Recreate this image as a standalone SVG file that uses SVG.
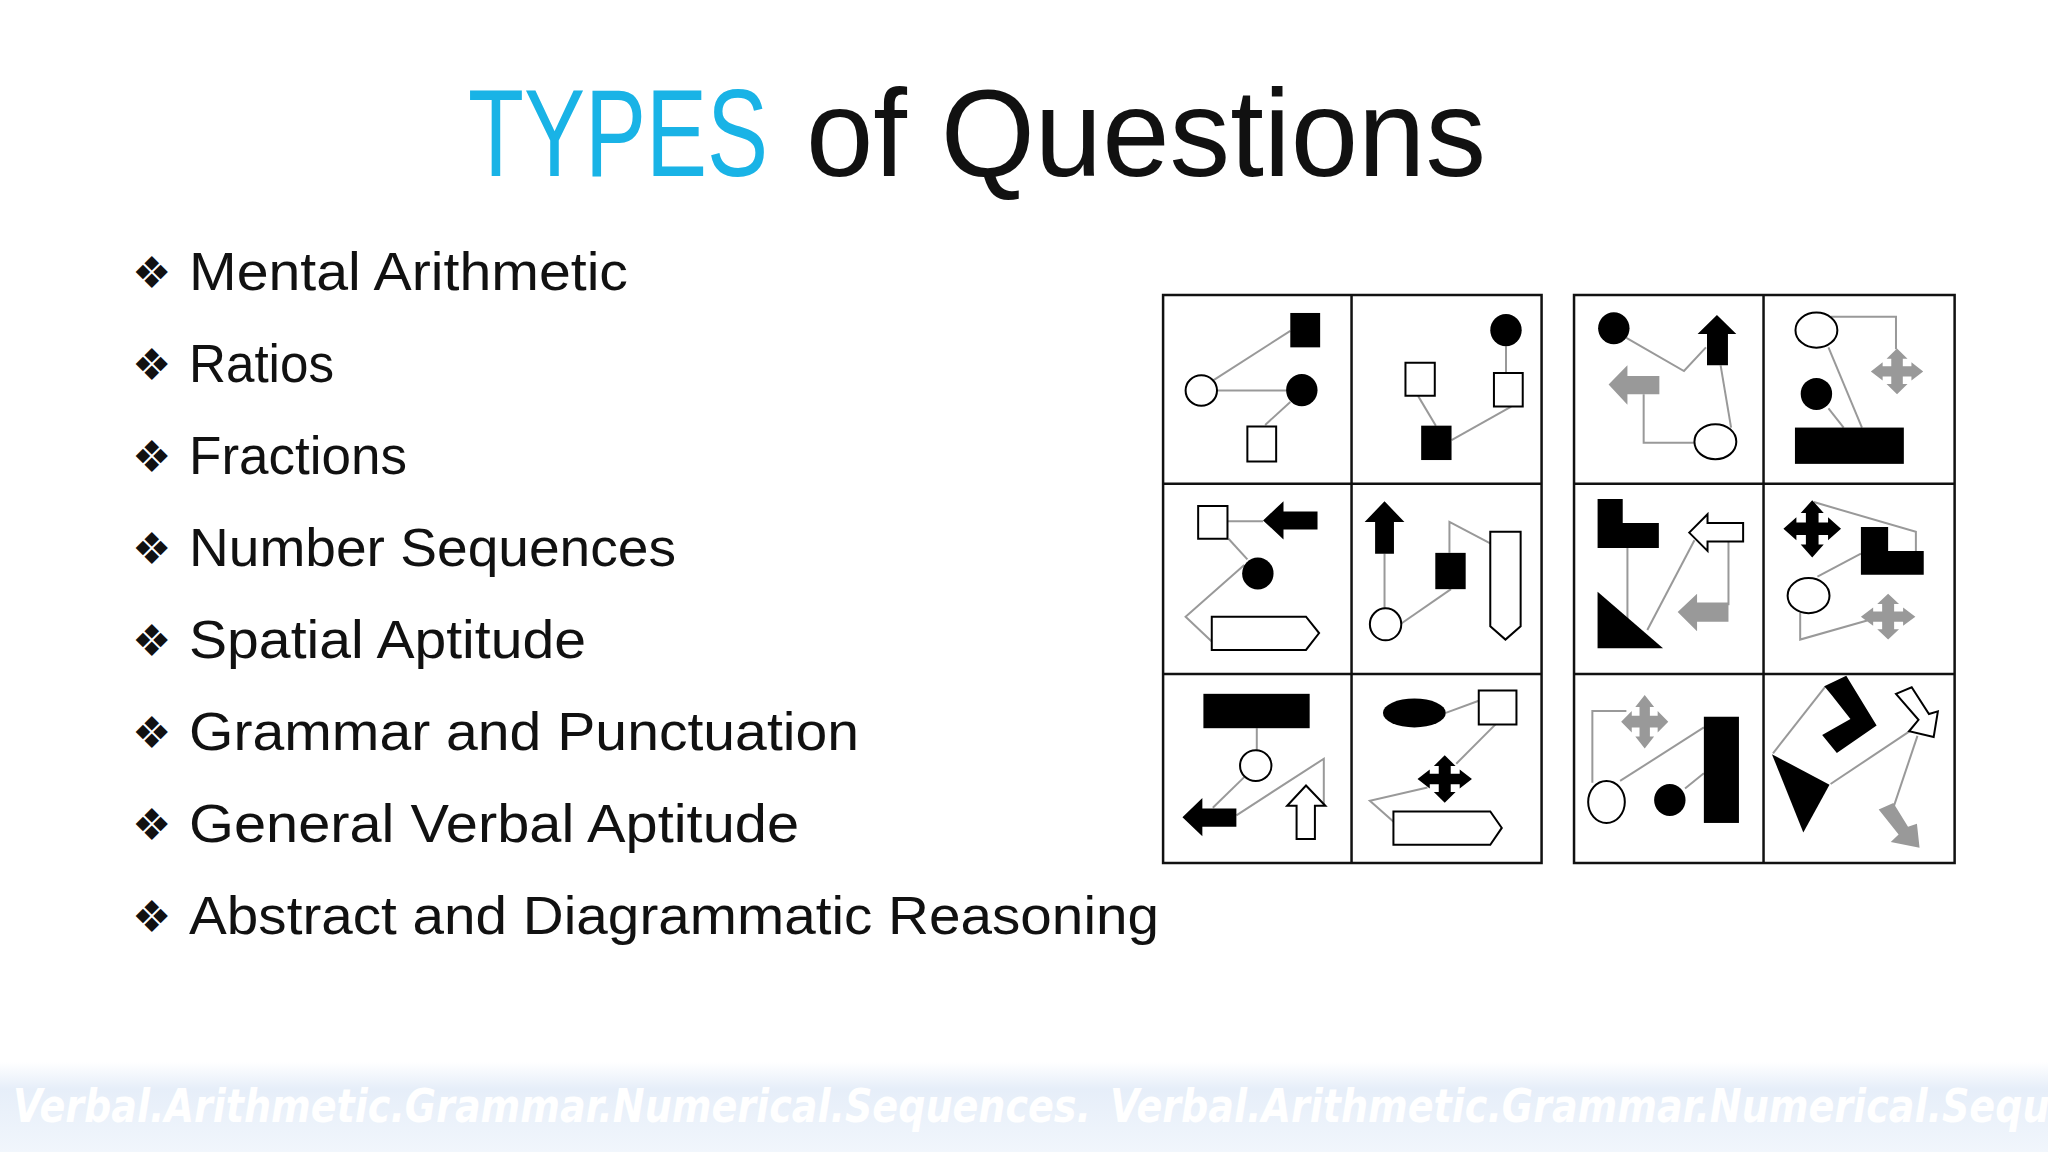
<svg xmlns="http://www.w3.org/2000/svg" width="2048" height="1152" viewBox="0 0 2048 1152">
<style>
.t{font-family:"Liberation Sans",Arial,sans-serif;fill:#111}
.b{font-family:"DejaVu Sans",sans-serif;font-size:44px;fill:#111}
.g *{vector-effect:non-scaling-stroke}
.k{fill:#000}
.w{fill:#fff;stroke:#000;stroke-width:2}
.gr{fill:#999}
.ln{fill:none;stroke:#999;stroke-width:2}
.grid{fill:none;stroke:#111;stroke-width:2.5}
.ft{font-family:"DejaVu Sans Condensed","DejaVu Sans",sans-serif;font-weight:bold;font-style:italic;font-size:46px;fill:#fff}
</style>
<defs>
<linearGradient id="band" x1="0" y1="0" x2="0" y2="1">
<stop offset="0" stop-color="#ffffff"/><stop offset="0.3" stop-color="#e6eef9"/><stop offset="1" stop-color="#f1f6fc"/>
</linearGradient>
<polygon id="star" points="0,-1 0.4,-0.55 0.22,-0.55 0.22,-0.22 0.55,-0.22 0.55,-0.4 1,0 0.55,0.4 0.55,0.22 0.22,0.22 0.22,0.55 0.4,0.55 0,1 -0.4,0.55 -0.22,0.55 -0.22,0.22 -0.55,0.22 -0.55,0.4 -1,0 -0.55,-0.4 -0.55,-0.22 -0.22,-0.22 -0.22,-0.55 -0.4,-0.55"/>
</defs>
<rect width="2048" height="1152" fill="#fff"/>
<g id="title">
<text class="t" x="468" y="176" font-size="124" fill="#19b3e6" style="fill:#19b3e6" textLength="300" lengthAdjust="spacingAndGlyphs">TYPES</text>
<text class="t" x="806" y="176" font-size="124" textLength="680" lengthAdjust="spacingAndGlyphs">of Questions</text>
</g>
<g id="list">
<text class="b" x="132" y="288">❖</text><text class="t" x="189" y="290" font-size="54" textLength="439" lengthAdjust="spacingAndGlyphs">Mental Arithmetic</text>
<text class="b" x="132" y="380">❖</text><text class="t" x="189" y="382" font-size="54" textLength="145" lengthAdjust="spacingAndGlyphs">Ratios</text>
<text class="b" x="132" y="472">❖</text><text class="t" x="189" y="474" font-size="54" textLength="218" lengthAdjust="spacingAndGlyphs">Fractions</text>
<text class="b" x="132" y="564">❖</text><text class="t" x="189" y="566" font-size="54" textLength="487" lengthAdjust="spacingAndGlyphs">Number Sequences</text>
<text class="b" x="132" y="656">❖</text><text class="t" x="189" y="658" font-size="54" textLength="397" lengthAdjust="spacingAndGlyphs">Spatial Aptitude</text>
<text class="b" x="132" y="748">❖</text><text class="t" x="189" y="750" font-size="54" textLength="670" lengthAdjust="spacingAndGlyphs">Grammar and Punctuation</text>
<text class="b" x="132" y="840">❖</text><text class="t" x="189" y="842" font-size="54" textLength="610" lengthAdjust="spacingAndGlyphs">General Verbal Aptitude</text>
<text class="b" x="132" y="932">❖</text><text class="t" x="189" y="934" font-size="54" textLength="970" lengthAdjust="spacingAndGlyphs">Abstract and Diagrammatic Reasoning</text>
</g>
<g id="grids" class="g" transform="translate(1150,280.5) scale(0.5235,0.382)">
<g id="connectors">
<polyline class="ln" points="120,262 268,132"/><polyline class="ln" points="128,288 260,288"/><polyline class="ln" points="220,378 268,318"/>
<polyline class="ln" points="680,172 680,242"/><polyline class="ln" points="512,302 546,380"/><polyline class="ln" points="576,418 690,330"/>
<polyline class="ln" points="910,150 1020,237 1062,175"/><polyline class="ln" points="1090,222 1110,385"/><polyline class="ln" points="943,298 943,425 1042,425"/>
<polyline class="ln" points="1300,95 1425,95 1425,180"/><polyline class="ln" points="1296,175 1360,385"/><polyline class="ln" points="1296,335 1325,385"/>
<polyline class="ln" points="148,630 216,630"/><polyline class="ln" points="150,676 186,730"/><polyline class="ln" points="180,745 68,880 118,945"/>
<polyline class="ln" points="448,715 448,858"/><polyline class="ln" points="478,900 575,808"/><polyline class="ln" points="572,713 572,632 650,688"/>
<polyline class="ln" points="912,700 912,930"/><polyline class="ln" points="950,915 1040,680"/><polyline class="ln" points="1105,683 1105,850"/>
<polyline class="ln" points="1268,580 1463,658 1463,708"/><polyline class="ln" points="1275,775 1358,715"/><polyline class="ln" points="1242,870 1242,940 1370,890"/>
<polyline class="ln" points="204,1172 204,1230"/><polyline class="ln" points="180,1300 120,1380"/><polyline class="ln" points="165,1400 332,1252 332,1372"/>
<polyline class="ln" points="565,1132 628,1100"/><polyline class="ln" points="660,1162 585,1265"/><polyline class="ln" points="530,1327 420,1362 468,1420"/>
<polyline class="ln" points="845,1315 845,1127 910,1127"/><polyline class="ln" points="898,1310 1058,1170"/><polyline class="ln" points="1022,1330 1058,1290"/>
<polyline class="ln" points="1190,1238 1290,1063"/><polyline class="ln" points="1300,1318 1460,1172"/><polyline class="ln" points="1466,1192 1420,1380"/>
</g>
<g id="cell1"><rect class="k" x="268" y="85" width="57" height="90"/><ellipse class="w" cx="98" cy="288" rx="30" ry="40"/><ellipse class="k" cx="290" cy="287" rx="30" ry="42"/><rect class="w" x="186" y="382" width="55" height="92"/></g>
<g id="cell2"><ellipse class="k" cx="680" cy="130" rx="30" ry="42"/><rect class="w" x="488" y="215" width="56" height="87"/><rect class="w" x="657" y="242" width="55" height="88"/><rect class="k" x="518" y="380" width="58" height="90"/></g>
<g id="cell3"><ellipse class="k" cx="886" cy="125" rx="30" ry="42"/><polygon class="k" points="1083,90 1120,140 1104,140 1104,222 1064,222 1064,140 1046,140"/><polygon class="gr" points="876,272 912,222 912,250 973,250 973,298 912,298 912,325"/><ellipse class="w" cx="1080" cy="422" rx="40" ry="46"/></g>
<g id="cell4"><ellipse class="w" cx="1273" cy="130" rx="40" ry="46"/><use href="#star" class="gr" transform="translate(1427,238) scale(50,60)"/><ellipse class="k" cx="1273" cy="297" rx="30" ry="42"/><rect class="k" x="1232" y="385" width="208" height="95"/></g>
<g id="cell5"><rect class="w" x="92" y="590" width="56" height="86"/><polygon class="k" points="216,628 255,578 255,605 320,605 320,652 255,652 255,678"/><ellipse class="k" cx="206" cy="767" rx="30" ry="42"/><polygon class="w" points="118,880 298,880 323,923 298,967 118,967"/></g>
<g id="cell6"><polygon class="k" points="448,578 486,632 466,632 466,715 430,715 430,632 410,632"/><ellipse class="w" cx="450" cy="900" rx="30" ry="42"/><rect class="k" x="545" y="713" width="58" height="95"/><polygon class="w" points="650,658 708,658 708,905 679,940 650,905"/></g>
<g id="cell7"><polygon class="k" points="855,572 903,572 903,635 972,635 972,700 855,700"/><polygon class="k" points="855,815 855,963 980,963"/><polygon class="w" points="1030,660 1065,612 1065,635 1133,635 1133,683 1065,683 1065,708"/><polygon class="gr" points="1008,868 1045,820 1045,843 1105,843 1105,893 1045,893 1045,918"/></g>
<g id="cell8"><use href="#star" class="k" transform="translate(1265,650) scale(55,75)"/><polygon class="k" points="1358,645 1410,645 1410,708 1478,708 1478,770 1358,770"/><ellipse class="w" cx="1258" cy="825" rx="40" ry="46"/><use href="#star" class="gr" transform="translate(1410,880) scale(52,60)"/></g>
<g id="cell9"><rect class="k" x="102" y="1082" width="203" height="90"/><ellipse class="w" cx="202" cy="1270" rx="30" ry="40"/><polygon class="k" points="62,1405 100,1355 100,1382 165,1382 165,1430 100,1430 100,1455"/><polygon class="w" points="298,1322 335,1375 315,1375 315,1462 280,1462 280,1375 262,1375"/></g>
<g id="cell10"><ellipse class="k" cx="505" cy="1132" rx="60" ry="38"/><rect class="w" x="628" y="1073" width="72" height="89"/><use href="#star" class="k" transform="translate(563,1305) scale(52,62)"/><polygon class="w" points="465,1390 650,1390 672,1433 650,1477 465,1477"/></g>
<g id="cell11"><use href="#star" class="gr" transform="translate(945,1155) scale(45,70)"/><rect class="k" x="1058" y="1142" width="67" height="278"/><ellipse class="w" cx="872" cy="1365" rx="35" ry="55"/><ellipse class="k" cx="993" cy="1360" rx="30" ry="42"/></g>
<g id="cell12"><polygon class="k" points="1288,1062 1330,1035 1388,1165 1312,1237 1284,1190 1338,1148 1302,1085"/><polygon class="k" points="1188,1240 1298,1320 1248,1445"/><polygon class="w" points="1425,1082 1455,1065 1488,1135 1505,1128 1497,1195 1450,1180 1468,1150"/><polygon class="gr" points="1392,1385 1420,1368 1448,1430 1465,1422 1470,1485 1415,1470 1430,1450"/></g>
<g id="gridlines">
<rect class="grid" x="25" y="38" width="723" height="1487"/><line class="grid" x1="385" y1="38" x2="385" y2="1525"/><line class="grid" x1="25" y1="532" x2="748" y2="532"/><line class="grid" x1="25" y1="1030" x2="748" y2="1030"/>
<rect class="grid" x="810" y="38" width="727" height="1487"/><line class="grid" x1="1172" y1="38" x2="1172" y2="1525"/><line class="grid" x1="810" y1="532" x2="1537" y2="532"/><line class="grid" x1="810" y1="1030" x2="1537" y2="1030"/>
</g>
</g>
<g id="footer">
<rect x="0" y="1062" width="2048" height="90" fill="url(#band)"/>
<text class="ft" x="13" y="1122" textLength="1078" lengthAdjust="spacingAndGlyphs">Verbal.Arithmetic.Grammar.Numerical.Sequences.</text>
<text class="ft" x="1110" y="1122" textLength="1078" lengthAdjust="spacingAndGlyphs">Verbal.Arithmetic.Grammar.Numerical.Sequences.</text>
</g>
</svg>
